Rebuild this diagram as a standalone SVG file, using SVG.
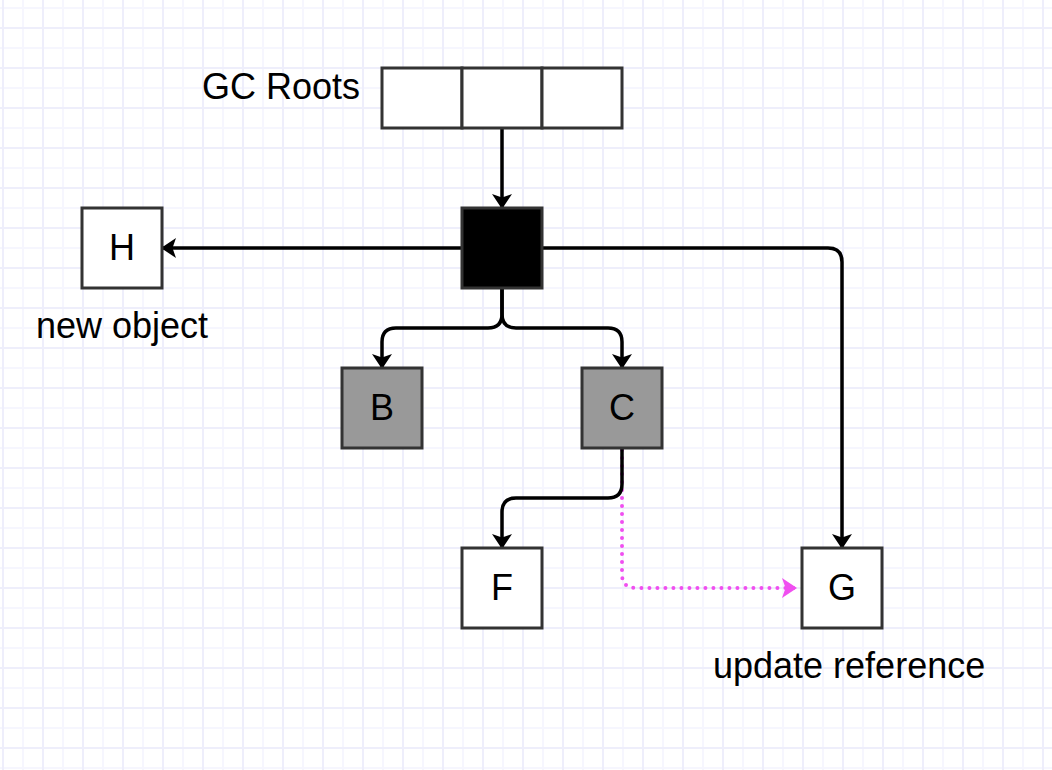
<svg xmlns="http://www.w3.org/2000/svg" width="1052" height="770" viewBox="0 0 1052 770">
  <defs>
    <pattern id="grid" patternUnits="userSpaceOnUse" x="2" y="27" width="40" height="40">
      <rect x="0" y="0" width="40" height="40" fill="#ffffff"/>
      <rect x="20" y="0" width="2" height="40" fill="#f6f6fe"/>
      <rect x="0" y="20" width="40" height="2" fill="#f6f6fe"/>
      <rect x="0" y="0" width="2" height="40" fill="#eeeefb"/>
      <rect x="0" y="0" width="40" height="2" fill="#eeeefb"/>
    </pattern>
    <marker id="arrow" viewBox="0 0 15 20" refX="14" refY="10" markerWidth="15" markerHeight="20" markerUnits="userSpaceOnUse" orient="auto">
      <path d="M0,0 L15,10 L0,20 L3.5,10 Z" fill="#000000"/>
    </marker>
    <marker id="arrowPink" viewBox="0 0 15 20" refX="14" refY="10" markerWidth="15" markerHeight="20" markerUnits="userSpaceOnUse" orient="auto">
      <path d="M0,0 L15,10 L0,20 L3.5,10 Z" fill="#f04ff0"/>
    </marker>
  </defs>
  <style>
    .box { stroke: #333333; stroke-width: 3; }
    .white { fill: #ffffff; }
    .gray { fill: #999999; }
    .black { fill: #000000; }
    .lbl { font-family: "Liberation Sans", Arial, sans-serif; font-size: 36px; fill: #000000; }
    .edge { fill: none; stroke: #000000; stroke-width: 3.5; }
    .dot { fill: none; stroke: #f04ff0; stroke-width: 4; stroke-linecap: round; stroke-dasharray: 0 8; }
  </style>
  <rect x="0" y="0" width="1052" height="770" fill="url(#grid)"/>

  <g id="connectors">
    <path class="dot" d="M622,450 V574 Q622,588 636,588 H796" marker-end="url(#arrowPink)"/>
    <path class="edge" d="M502,128 V208" marker-end="url(#arrow)"/>
    <path class="edge" d="M462,248 H162" marker-end="url(#arrow)"/>
    <path class="edge" d="M542,248 H828 Q842,248 842,262 V548" marker-end="url(#arrow)"/>
    <path class="edge" d="M502,288 V314 Q502,328 488,328 H396 Q382,328 382,342 V368" marker-end="url(#arrow)"/>
    <path class="edge" d="M502,288 V314 Q502,328 516,328 H608 Q622,328 622,342 V368" marker-end="url(#arrow)"/>
    <path class="edge" d="M622,448 V484 Q622,498 608,498 H516 Q502,498 502,512 V548" marker-end="url(#arrow)"/>
  </g>

  <g id="gcroots">
    <rect class="box white" x="382" y="68" width="80" height="60"/>
    <rect class="box white" x="462" y="68" width="80" height="60"/>
    <rect class="box white" x="542" y="68" width="80" height="60"/>
    <text class="lbl" x="360" y="99" text-anchor="end">GC Roots</text>
  </g>

  <g id="nodeA">
    <rect class="box black" x="462" y="208" width="80" height="80"/>
  </g>

  <g id="nodeH">
    <rect class="box white" x="82" y="208" width="80" height="80"/>
    <text class="lbl" x="122" y="260" text-anchor="middle">H</text>
    <text class="lbl" x="122" y="338" text-anchor="middle">new object</text>
  </g>

  <g id="nodeB">
    <rect class="box gray" x="342" y="368" width="80" height="80"/>
    <text class="lbl" x="382" y="420" text-anchor="middle">B</text>
  </g>

  <g id="nodeC">
    <rect class="box gray" x="582" y="368" width="80" height="80"/>
    <text class="lbl" x="622" y="420" text-anchor="middle">C</text>
  </g>

  <g id="nodeF">
    <rect class="box white" x="462" y="548" width="80" height="80"/>
    <text class="lbl" x="502" y="600" text-anchor="middle">F</text>
  </g>

  <g id="nodeG">
    <rect class="box white" x="802" y="548" width="80" height="80"/>
    <text class="lbl" x="842" y="600" text-anchor="middle">G</text>
    <text class="lbl" x="713" y="678">update reference</text>
  </g>
</svg>
